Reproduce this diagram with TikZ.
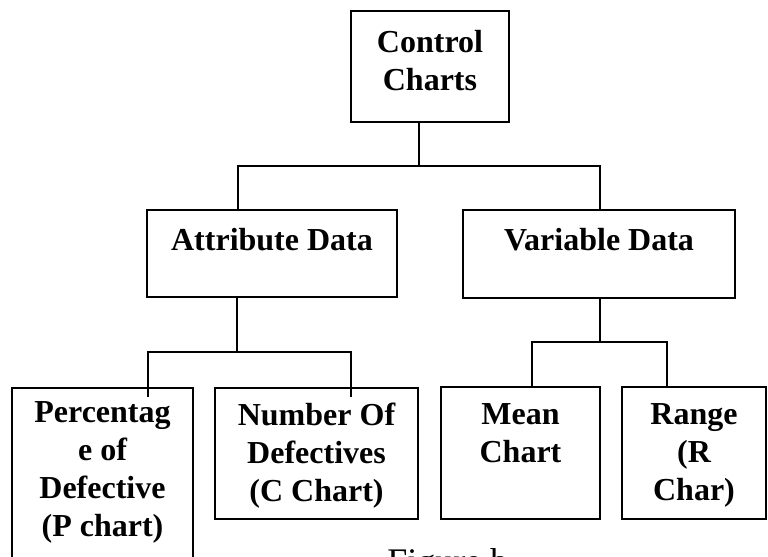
\documentclass[tikz,border=0pt]{standalone}
\usepackage{fontspec}
\setmainfont{Liberation Serif}
\usetikzlibrary{positioning}

\tikzset{
  chartbox/.style={draw, line width=1.3pt, inner sep=0pt},
  boxtext/.style={align=center, inner sep=0pt,
    font=\fontsize{24}{28.5}\selectfont\bfseries},
  link/.style={line width=1.3pt}
}

\begin{document}
\begin{tikzpicture}[x=0.75pt, y=-0.75pt]
\useasboundingbox (0,0) rectangle (768,557);
\clip (0,0) rectangle (768,557);
% boxes
\node [chartbox, minimum width=118.5pt, minimum height=83.25pt] (ctrl) at (430,66.5) {};
\node [chartbox, minimum width=187.5pt, minimum height=65.25pt] (attr) at (272,253.5) {};
\node [chartbox, minimum width=204pt, minimum height=66pt] (var) at (599,254) {};
\node [chartbox, minimum width=135.75pt, minimum height=140.25pt] (pch) at (102.5,481.5) {};
\node [chartbox, minimum width=152.25pt, minimum height=98.25pt] (nch) at (316.5,453.5) {};
\node [chartbox, minimum width=119.25pt, minimum height=99pt] (mean) at (520.5,453) {};
\node [chartbox, minimum width=108pt, minimum height=99pt] (range) at (694,453) {};
% texts
\node [boxtext, anchor=north, below=14.75pt of ctrl.north] (ctrl-t) {Control\\Charts};
\node [boxtext, anchor=north, below=14pt of attr.north] (attr-t) {Attribute Data};
\node [boxtext, anchor=north, below=14pt of var.north] (var-t) {Variable Data};
\node [boxtext, anchor=north, below=10.25pt of pch.north] (pch-t) {Percentag\\e of\\Defective\\(P chart)};
\node [boxtext, anchor=north, below=11.75pt of nch.north] (nch-t) {Number Of\\Defectives\\(C Chart)};
\node [boxtext, anchor=north, below=12.5pt of mean.north] (mean-t) {Mean\\Chart};
\node [boxtext, anchor=north, below=12.5pt of range.north] (range-t) {Range\\(R\\Char)};
\node [anchor=base west, inner sep=0pt, font=\fontsize{27}{32}\selectfont] (fig) at (387,573) {Figure b};
% connectors
\coordinate (ctrl-j) at (419,166);
\coordinate (top-l) at (238,166);
\coordinate (top-r) at (600,166);
\draw [link] (ctrl.south -| ctrl-j) -- (ctrl-j);
\draw [link] (attr.north -| top-l) -- (top-l) -- (top-r) -- (var.north -| top-r);
\coordinate (attr-j) at (237,352);
\coordinate (attr-l) at (148,352);
\coordinate (attr-r) at (351,352);
\coordinate (p-end) at (148,397);
\coordinate (c-end) at (351,397);
\draw [link] (attr.south -| attr-j) -- (attr-j);
\draw [link] (p-end) -- (attr-l) -- (attr-r) -- (c-end);
\coordinate (var-j) at (600,342);
\coordinate (var-l) at (532,342);
\coordinate (var-r) at (667,342);
\draw [link] (var.south -| var-j) -- (var-j);
\draw [link] (mean.north -| var-l) -- (var-l) -- (var-r) -- (range.north -| var-r);
\end{tikzpicture}
\end{document}
